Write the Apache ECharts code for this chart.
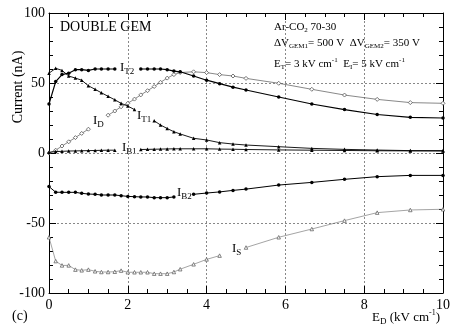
<!DOCTYPE html>
<html>
<head>
<meta charset="utf-8">
<script src="https://cdn.jsdelivr.net/npm/echarts@6/dist/echarts.min.js"></script>
<style>
  html, body { margin: 0; padding: 0; background: #fff; }
  #chart { width: 453px; height: 332px; }
</style>
</head>
<body>
<div id="chart"></div>
<script>
// Drift field E_D (kV/cm) at which the currents were measured
const E_D = [0, 0.17, 0.33, 0.5, 0.67, 0.83, 1.0, 1.17, 1.33, 1.5, 1.67, 1.83, 2.0, 2.17,
             2.33, 2.5, 2.67, 2.83, 3.0, 3.17, 3.33, 3.67, 4.0, 4.33, 4.67, 5.0, 5.83,
             6.67, 7.5, 8.33, 9.17, 10];

// Electrode currents (nA); null = no point drawn (line broken)
const I_T2 = [35, 51, 56, 57, 59.5, 59.5, 59, 60, 60, 60, 60, null, null, null,
              60, 60, 60, 60, 59.5, 58.5, 58, 55, 52, 49.5, 47, 45, 40,
              35, 31, 27.5, 25.5, 25];
const I_T1 = [57, 60.5, 59, 55, 53.5, 52, 48, 45.5, 43, 40.5, 38, 35.5, 33.5, 31,
              null, null, 23, 20, 17.5, 15.2, 13.6, 10.5, 9.3, 7.4, 6.4, 5.7, 4.5,
              3.3, 2.6, 2.1, 1.7, 1.7];
const I_D  = [0, 2, 5, 8, 11, 14, 17, null, null, 27, 30, 33, 35.5, 38.5,
              41.5, 44.5, 47.5, 50.5, 53.5, 56, 57.5, 58, 57.4, 56, 55, 53.3, 49.8,
              45.5, 41.4, 38.3, 36, 35.5];
const I_B1 = [0.5, 1, 1.2, 1.4, 1.5, 1.6, 1.7, 1.8, 1.9, 2, 2, null, null, null,
              2.5, 2.6, 2.7, 2.8, 2.9, 3, 3, 3, 3, 2.8, 2.7, 2.5, 2.2,
              2, 1.8, 1.6, 1.5, 1.4];
const I_B2 = [-24, -28, -28.1, -28.1, -28.1, -28.8, -29.3, -29.5, -30, -30, -30, -30.5, -31, -31.2,
              -31.4, -31.4, -31.9, -31.9, -31.9, -31.4, null, -29.5, -28.6, -27.8, -26.7, -25.8, -22.9,
              -21, -18.8, -16.9, -16, -16];
const I_S  = [-60.2, -77.2, -80.3, -80.3, -83.3, -83.8, -83.3, -84.5, -85, -85, -84.8, -84, -85.2, -85.2,
              -85.2, -85.2, -86.2, -86.2, -86.2, -85, -83, -79.5, -76, -73.3, null, -67.5, -60.2,
              -54.3, -48.3, -42.6, -40.7, -40.2];

// Axis ranges and tick steps
const X_MIN = 0, X_MAX = 10, X_STEP = 2;
const Y_MIN = -100, Y_MAX = 100, Y_STEP = 50;

const SERIF = 'Liberation Serif';
const INK = '#000';

function pairs(ys) {
  return E_D.map((x, i) => [x, ys[i] == null ? '-' : ys[i]]);
}

// Text with sub/superscripts: segments laid out left to right
const measureCtx = document.createElement('canvas').getContext('2d');
function textRun(x, y, segs) {
  const out = [];
  let cx = x;
  segs.forEach(s => {
    const font = s.size + 'px "' + SERIF + '"';
    measureCtx.font = font;
    out.push({
      type: 'text', x: cx, y: y + (s.dy || 0), silent: true,
      style: { text: s.t, font: font, fill: INK,
               textAlign: 'left', textVerticalAlign: 'top',
               align: 'left', verticalAlign: 'top' }
    });
    cx += measureCtx.measureText(s.t).width;
  });
  return out;
}
function curveLabel(x, y, sub) {
  return textRun(x, y, [{ t: 'I', size: 13 }, { t: sub, size: 9, dy: 6 }]);
}

const graphics = [].concat(
  textRun(60, 20, [{ t: 'DOUBLE GEM', size: 14 }]),
  textRun(274, 22, [{ t: 'Ar-CO', size: 11 }, { t: '2', size: 7, dy: 5 }, { t: ' 70-30', size: 11 }]),
  textRun(274, 38, [{ t: '\u0394V', size: 11 }, { t: 'GEM1', size: 7, dy: 5 }, { t: '= 500 V  \u0394V', size: 11 },
                    { t: 'GEM2', size: 7, dy: 5 }, { t: '= 350 V', size: 11 }]),
  textRun(274, 59, [{ t: 'E', size: 11 }, { t: 'T', size: 7, dy: 5 }, { t: '= 3 kV cm', size: 11 },
                    { t: '-1', size: 7, dy: -2 }, { t: '  E', size: 11 }, { t: 'I', size: 7, dy: 5 },
                    { t: '= 5 kV cm', size: 11 }, { t: '-1', size: 7, dy: -2 }]),
  curveLabel(120, 61, 'T2'),
  curveLabel(93, 114, 'D'),
  curveLabel(137, 109, 'T1'),
  curveLabel(122, 141, 'B1'),
  curveLabel(177, 186, 'B2'),
  curveLabel(232, 242, 'S'),
  textRun(372, 311, [{ t: 'E', size: 13 }, { t: 'D', size: 9, dy: 6 }, { t: ' (kV cm', size: 13 },
                     { t: '-1', size: 8, dy: -2 }, { t: ')', size: 13 }]),
  textRun(12, 309, [{ t: '(c)', size: 14 }]),
  [{
    type: 'text', x: 18, y: 87, rotation: Math.PI / 2, silent: true,
    style: { text: 'Current (nA)', font: '14px "' + SERIF + '"', fill: INK,
             textAlign: 'center', textVerticalAlign: 'middle', align: 'center', verticalAlign: 'middle' }
  }]
);

const frameLine = { onZero: false, lineStyle: { color: INK, width: 1 } };
const tickIn = { inside: true, length: 7, lineStyle: { color: INK, width: 1 } };
const gridDots = { show: true, showMinLine: false, showMaxLine: false,
                   lineStyle: { color: '#888', width: 1, type: [2, 2] } };
const tickFont = { color: INK, fontFamily: SERIF, fontSize: 14 };

// open = hollow marker (white fill, coloured outline)
function lineSeries(name, ys, symbol, size, color, width, z, open) {
  return {
    name: name, type: 'line', data: pairs(ys), connectNulls: false,
    symbol: symbol, symbolSize: size, z: z,
    lineStyle: { color: color, width: width },
    itemStyle: { color: open ? '#fff' : color, borderColor: color, borderWidth: open ? 0.8 : 0 },
    emphasis: { disabled: true }
  };
}

const chart = echarts.init(document.getElementById('chart'), null, { renderer: 'canvas' });
chart.setOption({
  animation: false,
  backgroundColor: '#fff',
  grid: { left: 49, right: 7, top: 13, bottom: 39 },
  xAxis: [
    { type: 'value', min: X_MIN, max: X_MAX, interval: X_STEP, position: 'bottom',
      axisLine: frameLine, axisTick: tickIn,
      minorTick: { show: true, splitNumber: 4, length: 4, lineStyle: { color: INK } },
      axisLabel: Object.assign({ margin: 5 }, tickFont),
      splitLine: gridDots },
    { type: 'value', min: X_MIN, max: X_MAX, interval: X_STEP, position: 'top',
      axisLine: frameLine, axisTick: tickIn,
      minorTick: { show: true, splitNumber: 4, length: 4, lineStyle: { color: INK } },
      axisLabel: { show: false }, splitLine: { show: false } }
  ],
  yAxis: [
    { type: 'value', min: Y_MIN, max: Y_MAX, interval: Y_STEP, position: 'left',
      axisLine: frameLine, axisTick: tickIn,
      minorTick: { show: true, splitNumber: 5, length: 4, lineStyle: { color: INK } },
      axisLabel: Object.assign({ margin: 4 }, tickFont),
      splitLine: gridDots },
    { type: 'value', min: Y_MIN, max: Y_MAX, interval: Y_STEP, position: 'right',
      axisLine: frameLine, axisTick: tickIn,
      minorTick: { show: true, splitNumber: 5, length: 4, lineStyle: { color: INK } },
      axisLabel: { show: false }, splitLine: { show: false } }
  ],
  series: [
    lineSeries('I_T2', I_T2, 'circle', 3.5, INK, 1.2, 5, false),
    lineSeries('I_T1', I_T1, 'triangle', 3.5, INK, 0.9, 4, false),
    lineSeries('I_D', I_D, 'diamond', 4, '#555', 0.7, 3, true),
    lineSeries('I_B1', I_B1, 'triangle', 3.5, INK, 0.9, 4, false),
    lineSeries('I_B2', I_B2, 'circle', 3.5, INK, 1, 5, false),
    lineSeries('I_S', I_S, 'triangle', 3.5, '#666', 0.6, 3, true)
  ],
  graphic: graphics
});
</script>
</body>
</html>
